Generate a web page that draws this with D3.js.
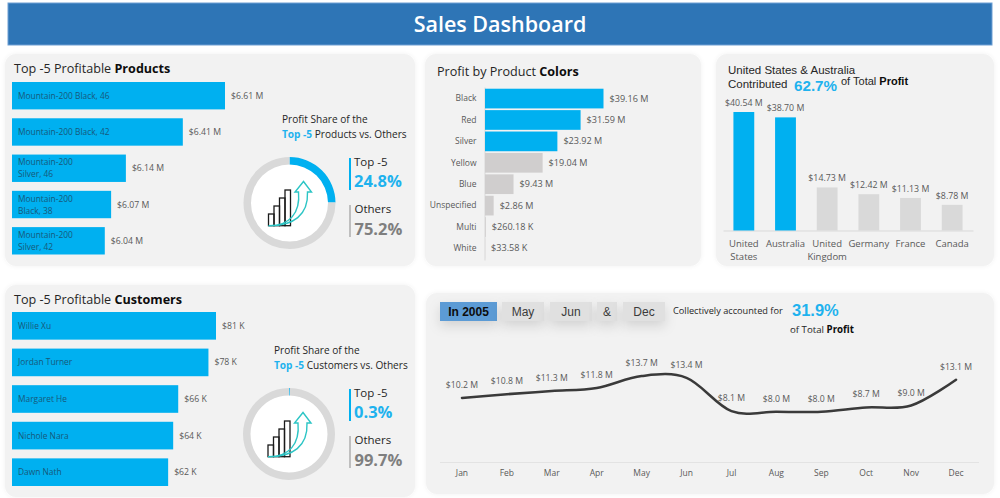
<!DOCTYPE html>
<html>
<head>
<meta charset="utf-8">
<script src="https://cdn.jsdelivr.net/npm/d3@7"></script>
<style>
  html, body { margin: 0; padding: 0; background: #fff; }
  svg { display: block; }
  text { font-family: "Open Sans", sans-serif; }
  .arial { font-family: "Liberation Sans", Arial, sans-serif; }
</style>
</head>
<body>
<div id="chart"></div>
<script>
const productNames = ['Mountain-200 Black, 46', 'Mountain-200 Black, 42', 'Mountain-200 Silver, 46', 'Mountain-200 Black, 38', 'Mountain-200 Silver, 42']
const productProfit = [6.61, 6.41, 6.14, 6.07, 6.04]
const productShare = [24.8, 75.2]

const customerNames = ['Willie Xu', 'Jordan Turner', 'Margaret He', 'Nichole Nara', 'Dawn Nath']
const customerProfit = [81, 78, 66, 64, 62]
const customerShare = [0.3, 99.7]

const colorNames = ['Black', 'Red', 'Silver', 'Yellow', 'Blue', 'Unspecified', 'Multi', 'White']
const colorProfit = [39.16, 31.59, 23.92, 19.04, 9.43, 2.86, 0.26018, 0.03358]
const colorLabels = ['$39.16 M', '$31.59 M', '$23.92 M', '$19.04 M', '$9.43 M', '$2.86 M', '$260.18 K', '$33.58 K']

const countryNames = ['United States', 'Australia', 'United Kingdom', 'Germany', 'France', 'Canada']
const countryProfit = [40.54, 38.7, 14.73, 12.42, 11.13, 8.78]

const months = ['Jan', 'Feb', 'Mar', 'Apr', 'May', 'Jun', 'Jul', 'Aug', 'Sep', 'Oct', 'Nov', 'Dec']
const monthProfit = [10.2, 10.8, 11.3, 11.8, 13.7, 13.4, 8.1, 8.0, 8.0, 8.7, 9.0, 13.1]
const monthButtons = ['In 2005', 'May', 'Jun', '&', 'Dec']

const blue = '#00B0F0'
const lightBlue = '#1FB2EE'
const grey = '#D0CECE'
const textGrey = '#595959'

const svg = d3.select('#chart').append('svg').attr('width', 1000).attr('height', 498)

const defs = svg.append('defs')
const soft = defs.append('filter').attr('id', 'soft').attr('x', '-5%').attr('y', '-5%').attr('width', '110%').attr('height', '110%')
soft.append('feDropShadow').attr('dx', 0).attr('dy', 0).attr('stdDeviation', 2).attr('flood-color', '#000').attr('flood-opacity', 0.06)
const btnShadow = defs.append('filter').attr('id', 'btn').attr('x', '-40%').attr('y', '-60%').attr('width', '180%').attr('height', '300%')
btnShadow.append('feDropShadow').attr('dx', 0).attr('dy', 5).attr('stdDeviation', 6).attr('flood-color', '#000').attr('flood-opacity', 0.13)

// banner
svg.append('rect').attr('x', 8).attr('y', 3).attr('width', 984).attr('height', 42)
  .attr('fill', '#2E75B6').attr('stroke', '#6E9FD3').attr('stroke-width', 1)
svg.append('text').text('Sales Dashboard')
  .attr('x', 500).attr('y', 32).attr('text-anchor', 'middle')
  .attr('font-size', 21.5).attr('font-weight', 600).attr('fill', '#fff')

// panels
function panel(x, y, w, h) {
  svg.append('rect').attr('x', x).attr('y', y).attr('width', w).attr('height', h)
    .attr('rx', 11).attr('fill', '#F2F2F2').attr('filter', 'url(#soft)')
}
panel(5, 54, 410, 212)
panel(425, 54, 276, 212)
panel(716, 54, 278, 212)
panel(5, 285, 410, 212)
panel(426, 293, 568, 201)

// text made of runs with different weight / colour
function richText(x, y, parts, size, cls) {
  const t = svg.append('text').attr('x', x).attr('y', y).attr('font-size', size).attr('fill', '#262626')
  if (cls) t.attr('class', cls)
  parts.forEach(p => {
    const s = t.append('tspan').text(p.text)
    if (p.bold) s.attr('font-weight', 700).attr('fill', p.color || '#0d0d0d')
    else if (p.color) s.attr('fill', p.color)
  })
  return t
}

function hBars(names, values, opts) {
  const x = d3.scaleLinear().domain(opts.domain).range([opts.left, opts.left + opts.width])
  const y = d3.scaleBand().domain(names).range(opts.yRange).paddingInner(0.245).paddingOuter(0)
  const g = svg.append('g')
  g.selectAll('rect').data(names).enter().append('rect')
    .attr('x', opts.left)
    .attr('y', d => y(d))
    .attr('width', (d, i) => x(values[i]) - opts.left)
    .attr('height', y.bandwidth())
    .attr('fill', blue)
  g.selectAll('.val').data(names).enter().append('text')
    .attr('x', (d, i) => x(values[i]) + 6)
    .attr('y', d => y(d) + y.bandwidth() / 2 + 3)
    .attr('font-size', 8.7)
    .attr('fill', textGrey)
    .text((d, i) => '$' + d3.format(opts.fmt)(values[i]) + opts.unit)
  const labels = g.selectAll('.name').data(names).enter().append('text')
    .attr('font-size', 8.4)
    .attr('fill', '#17597A')
  labels.each(function(d, i) {
    const el = d3.select(this)
    const mid = y(d) + y.bandwidth() / 2
    const narrow = x(values[i]) - opts.left < 125
    if (narrow) {
      const k = d.indexOf(' ')
      el.append('tspan').attr('x', opts.left + 6).attr('y', mid - 3).text(d.slice(0, k))
      el.append('tspan').attr('x', opts.left + 6).attr('y', mid + 9).text(d.slice(k + 1))
    } else {
      el.append('tspan').attr('x', opts.left + 6).attr('y', mid + 3).text(d)
    }
  })
}

// little bars + arrow in the middle of the rings
function icon(g) {
  const bars = [[-21, 11], [-15.5, 3], [-10, -5], [-4.5, -13]]
  g.selectAll('.ib').data(bars).enter().append('rect')
    .attr('x', d => d[0]).attr('y', d => d[1])
    .attr('width', 5.5).attr('height', d => 22.7 - d[1])
    .attr('fill', 'none').attr('stroke', '#1a1a1a').attr('stroke-width', 1.3)
  g.append('path')
    .attr('d', 'M-21,22.7 C0,23 11,10 9,-11 L5.5,-11 L14,-21.5 L22,-11 L18,-11 C19,12 4,23 -21,22.7')
    .attr('fill', 'none').attr('stroke', '#2CC5C5').attr('stroke-width', 1.4)
}

function ring(cx, cy, share, topLabel, otherLabel, legendY) {
  const g = svg.append('g').attr('transform', 'translate(' + cx + ',' + cy + ')')
  g.append('circle').attr('r', 39).attr('fill', '#fff')
  const pie = d3.pie().sort(null)
  const arc = d3.arc().innerRadius(38.5).outerRadius(46)
  g.selectAll('path').data(pie(share)).enter().append('path')
    .attr('d', arc)
    .attr('fill', (d, i) => (i === 0 ? blue : '#D9D9D9'))
  icon(g)

  svg.append('rect').attr('x', 349).attr('y', legendY).attr('width', 2).attr('height', 32).attr('fill', blue)
  svg.append('text').text(topLabel[0]).attr('x', 354).attr('y', legendY + 8).attr('font-size', 11.5).attr('fill', '#262626')
  svg.append('text').text(topLabel[1]).attr('x', 354).attr('y', legendY + 29).attr('font-size', 16.5).attr('font-weight', 700).attr('fill', lightBlue)
  svg.append('rect').attr('x', 349).attr('y', legendY + 47).attr('width', 2).attr('height', 32).attr('fill', '#BFBFBF')
  svg.append('text').text(otherLabel[0]).attr('x', 354.5).attr('y', legendY + 55).attr('font-size', 11.5).attr('fill', '#262626')
  svg.append('text').text(otherLabel[1]).attr('x', 354.5).attr('y', legendY + 76.5).attr('font-size', 16.5).attr('font-weight', 700).attr('fill', '#7F7F7F')
}

// top left: products
richText(14, 73, [{ text: 'Top -5 Profitable ' }, { text: 'Products', bold: true }], 12.6)
hBars(productNames, productProfit, {
  domain: [5.6, 6.61], left: 12, width: 213, yRange: [82, 254.5], fmt: '.2f', unit: ' M'
})
richText(282, 123, [{ text: 'Profit Share of the' }], 10.1)
richText(282, 138, [{ text: 'Top -5', bold: true, color: lightBlue }, { text: ' Products vs. Others' }], 10.1)
ring(289.5, 203, productShare, ['Top -5', '24.8%'], ['Others', '75.2%'], 158)

// bottom left: customers
richText(14, 304, [{ text: 'Top -5 Profitable ' }, { text: 'Customers', bold: true }], 12.6)
hBars(customerNames, customerProfit, {
  domain: [0, 81], left: 12, width: 204, yRange: [312, 486], fmt: 'd', unit: ' K'
})
richText(274, 354, [{ text: 'Profit Share of the' }], 10.1)
richText(274, 369, [{ text: 'Top -5', bold: true, color: lightBlue }, { text: ' Customers vs. Others' }], 10.1)
ring(289, 434, customerShare, ['Top -5', '0.3%'], ['Others', '99.7%'], 389)

// colours
richText(437, 76, [{ text: 'Profit by Product ' }, { text: 'Colors', bold: true }], 12.6)
const colorX = d3.scaleLinear().domain([0, 39.16]).range([485, 603.5])
const colorY = d3.scaleBand().domain(colorNames).range([87, 260]).padding(0.08)
const colorAxis = svg.append('g').attr('transform', 'translate(484.5,0)')
  .call(d3.axisLeft(colorY).tickSize(0).tickPadding(8))
colorAxis.select('.domain').attr('stroke', '#D9D9D9')
colorAxis.selectAll('text').attr('font-size', 8.5).attr('fill', textGrey).style('font-family', '"Open Sans", sans-serif')
svg.selectAll('.cbar').data(colorNames).enter().append('rect')
  .attr('x', 485)
  .attr('y', d => colorY(d))
  .attr('width', (d, i) => colorX(colorProfit[i]) - 485)
  .attr('height', colorY.bandwidth())
  .attr('fill', (d, i) => (i < 3 ? blue : grey))
svg.selectAll('.clab').data(colorNames).enter().append('text')
  .attr('x', (d, i) => colorX(colorProfit[i]) + 6)
  .attr('y', d => colorY(d) + colorY.bandwidth() / 2 + 3)
  .attr('font-size', 9.1)
  .attr('fill', textGrey)
  .text((d, i) => colorLabels[i])

// countries
richText(728, 74, [{ text: 'United States & Australia' }], 11.5, 'arial')
richText(728, 88, [{ text: 'Contributed' }], 11.5, 'arial')
richText(794, 91, [{ text: '62.7%', bold: true, color: lightBlue }], 15.2, 'arial')
richText(841, 85, [{ text: 'of Total ' }, { text: 'Profit', bold: true }], 11, 'arial')
const countryX = d3.scaleBand().domain(countryNames).range([723, 973]).paddingInner(0.5).paddingOuter(0.25)
const countryY = d3.scaleLinear().domain([0, 40.54]).range([230.5, 112])
const countryAxis = svg.append('g').attr('transform', 'translate(0,230.5)')
  .call(d3.axisBottom(countryX).tickSize(0).tickSizeOuter(0).tickFormat(''))
countryAxis.select('.domain').attr('stroke', '#D9D9D9')
svg.selectAll('.nbar').data(countryNames).enter().append('rect')
  .attr('x', d => countryX(d))
  .attr('y', (d, i) => countryY(countryProfit[i]))
  .attr('width', countryX.bandwidth())
  .attr('height', (d, i) => 230.5 - countryY(countryProfit[i]))
  .attr('fill', (d, i) => (i < 2 ? blue : '#D9D9D9'))
svg.selectAll('.nval').data(countryNames).enter().append('text')
  .attr('x', d => countryX(d) + countryX.bandwidth() / 2)
  .attr('y', (d, i) => countryY(countryProfit[i]) - 6)
  .attr('text-anchor', 'middle')
  .attr('font-size', 8.8)
  .attr('fill', textGrey)
  .text((d, i) => '$' + d3.format('.2f')(countryProfit[i]) + ' M')
svg.selectAll('.nname').data(countryNames).enter().append('text')
  .attr('text-anchor', 'middle')
  .attr('font-size', 9.5)
  .attr('fill', textGrey)
  .each(function(d) {
    const cx = countryX(d) + countryX.bandwidth() / 2
    const two = d.startsWith('United')
    const words = two ? d.split(' ') : [d]
    words.forEach((w, i) => {
      d3.select(this).append('tspan').attr('x', cx).attr('y', 247 + i * 13).text(w)
    })
  })

// month buttons
const buttonX = [440, 502, 550, 597, 623]
const buttonW = [57, 42, 42, 20, 42]
monthButtons.forEach((b, i) => {
  svg.append('rect').attr('x', buttonX[i]).attr('y', 302).attr('width', buttonW[i]).attr('height', 19)
    .attr('fill', i === 0 ? '#5B9BD5' : '#E0E0E0').attr('filter', 'url(#btn)')
  svg.append('text').attr('class', 'arial').text(b)
    .attr('x', buttonX[i] + buttonW[i] / 2).attr('y', 316).attr('text-anchor', 'middle')
    .attr('font-size', 12).attr('font-weight', i === 0 ? 700 : 400)
    .attr('fill', i === 0 ? '#0d0d0d' : '#3b3b3b')
})
richText(673, 314, [{ text: 'Collectively accounted for' }], 9.2)
richText(792, 316, [{ text: '31.9%', bold: true, color: lightBlue }], 16.5, 'arial')
richText(790, 333, [{ text: 'of Total ' }, { text: 'Profit', bold: true }], 9.7)

// monthly line
const monthX = d3.scaleBand().domain(months).range([439.5, 978.5])
const monthY = d3.scaleLinear().domain([0, 13.7]).range([462, 376])
const monthAxis = svg.append('g').attr('transform', 'translate(0,462)')
  .call(d3.axisBottom(monthX).tickSize(0).tickSizeOuter(0).tickPadding(8))
monthAxis.select('.domain').attr('stroke', '#E3E3E3')
monthAxis.selectAll('text').attr('font-size', 8.5).attr('fill', textGrey).style('font-family', '"Open Sans", sans-serif')
const line = d3.line()
  .x(d => monthX(d.month) + monthX.bandwidth() / 2)
  .y(d => monthY(d.value))
  .curve(d3.curveCardinal.tension(0))
const monthData = months.map((m, i) => ({ month: m, value: monthProfit[i] }))
svg.append('path').datum(monthData)
  .attr('d', line)
  .attr('fill', 'none')
  .attr('stroke', '#3A3A3A')
  .attr('stroke-width', 2.5)
  .attr('stroke-linecap', 'round')
svg.selectAll('.mval').data(monthData).enter().append('text')
  .attr('x', d => monthX(d.month) + monthX.bandwidth() / 2)
  .attr('y', d => monthY(d.value) - 10)
  .attr('text-anchor', 'middle')
  .attr('font-size', 8.7)
  .attr('fill', textGrey)
  .text(d => '$' + d3.format('.1f')(d.value) + ' M')
</script>
</body>
</html>
